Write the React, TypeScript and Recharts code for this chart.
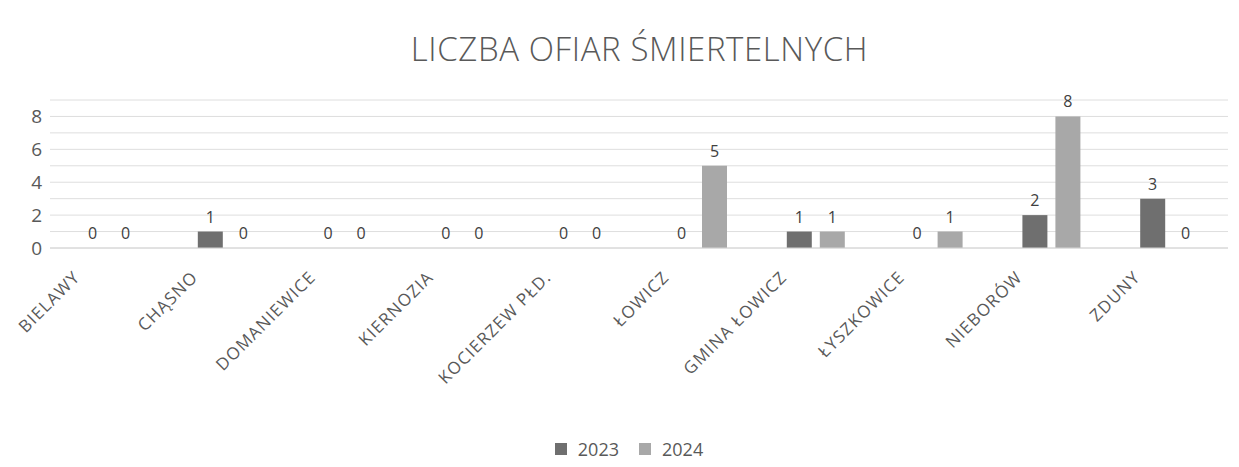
import { BarChart, Bar, XAxis, YAxis, CartesianGrid, Legend, LabelList } from 'recharts';

const gminy = [
  'BIELAWY',
  'CHĄSNO',
  'DOMANIEWICE',
  'KIERNOZIA',
  'KOCIERZEW PŁD.',
  'ŁOWICZ',
  'GMINA ŁOWICZ',
  'ŁYSZKOWICE',
  'NIEBORÓW',
  'ZDUNY',
];
const ofiary2023 = [0, 1, 0, 0, 0, 0, 1, 0, 2, 3];
const ofiary2024 = [0, 0, 0, 0, 0, 5, 1, 1, 8, 0];
const yTicks = [0, 1, 2, 3, 4, 5, 6, 7, 8, 9];

const data = gminy.map((name, i) => ({ name, y2023: ofiary2023[i], y2024: ofiary2024[i] }));

const FONT = '"Open Sans", "Liberation Sans", sans-serif';
const C2023 = '#6f6f6f';
const C2024 = '#a8a8a8';

function RotatedTick({ x, y, payload }: any) {
  return (
    <g transform={`translate(${x - 32},${y + 18})`}>
      <text
        transform="rotate(-45)"
        textAnchor="end"
        fontSize={17}
        letterSpacing={1.2}
        fill="#595959"
        fontFamily={FONT}
        dy={6}
      >
        {payload.value}
      </text>
    </g>
  );
}

// value labels, also for the zero bars
function ValueLabel({ x, y, width, value }: any) {
  if (x == null || y == null) return null;
  return (
    <text x={x + width / 2} y={y - 9} textAnchor="middle" fontSize={16} fill="#404040" fontFamily={FONT}>
      {value}
    </text>
  );
}

function LegendBox() {
  const items = [
    { name: '2023', color: C2023 },
    { name: '2024', color: C2024 },
  ];
  return (
    <div
      style={{
        display: 'flex',
        justifyContent: 'center',
        gap: 20,
        paddingLeft: 30,
        fontSize: 18,
        color: '#595959',
        fontFamily: FONT,
      }}
    >
      {items.map((it) => (
        <div key={it.name} style={{ display: 'flex', alignItems: 'center', gap: 11 }}>
          <span style={{ width: 12, height: 12, background: it.color, display: 'inline-block' }} />
          <span>{it.name}</span>
        </div>
      ))}
    </div>
  );
}

export default function App() {
  return (
    <div style={{ position: 'absolute', left: 0, top: 0, width: 1239, height: 467, background: '#fff', fontFamily: FONT }}>
      <div
        style={{
          position: 'absolute',
          top: 27,
          left: 20,
          width: 1239,
          textAlign: 'center',
          fontSize: 33,
          lineHeight: '44px',
          fontWeight: 300,
          letterSpacing: 0.6,
          color: '#595959',
        }}
      >
        LICZBA OFIAR ŚMIERTELNYCH
      </div>
      <BarChart
        width={1239}
        height={467}
        data={data}
        margin={{ top: 100, right: 11, left: 0, bottom: 6 }}
        barGap={8}
        barSize={25}
      >
        <CartesianGrid vertical={false} stroke="#dedede" />
        <XAxis
          dataKey="name"
          tick={<RotatedTick />}
          interval={0}
          axisLine={{ stroke: '#d4d4d4' }}
          tickLine={false}
          height={189}
        />
        <YAxis
          domain={[0, 9]}
          ticks={yTicks}
          tickFormatter={(v: number) => (v % 2 === 0 && v < 9 ? String(v) : '')}
          axisLine={false}
          tickLine={false}
          width={50}
          tick={{ fontSize: 19, fill: '#595959', fontFamily: FONT }}
          tickMargin={2}
        />
        <Legend verticalAlign="bottom" content={<LegendBox />} />
        <Bar
          dataKey="y2023"
          name="2023"
          fill={C2023}
          minPointSize={(v: number) => (v === 0 ? 0.01 : 0)}
          isAnimationActive={false}
        >
          <LabelList dataKey="y2023" content={<ValueLabel />} />
        </Bar>
        <Bar
          dataKey="y2024"
          name="2024"
          fill={C2024}
          minPointSize={(v: number) => (v === 0 ? 0.01 : 0)}
          isAnimationActive={false}
        >
          <LabelList dataKey="y2024" content={<ValueLabel />} />
        </Bar>
      </BarChart>
    </div>
  );
}
